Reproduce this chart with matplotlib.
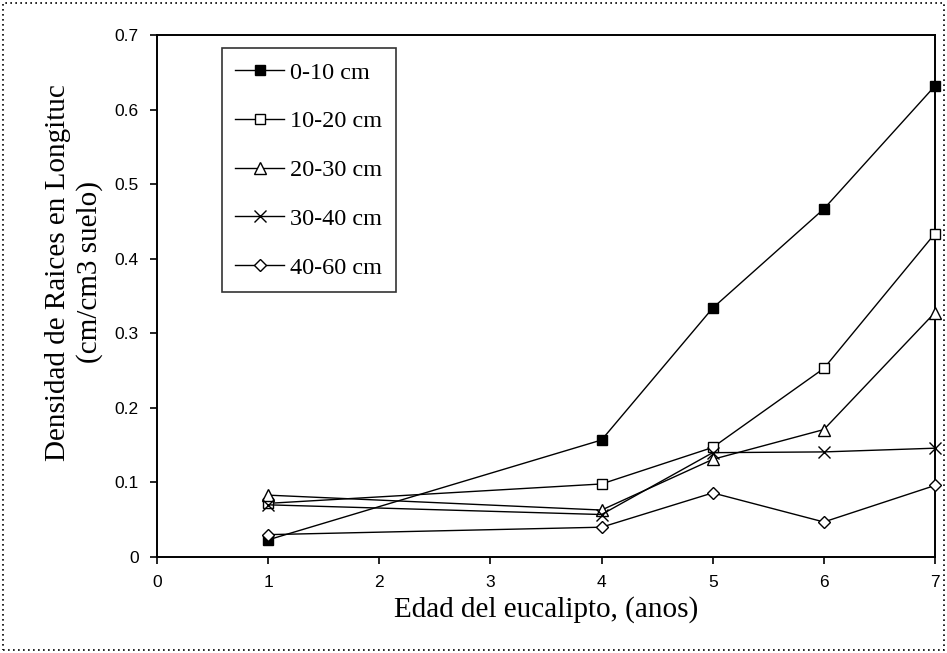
import numpy as np
import matplotlib.pyplot as plt
from matplotlib.patches import Rectangle

# DATA
edad = [1, 4, 5, 6, 7]  # anos
d_0_10 = [0.023, 0.157, 0.334, 0.467, 0.632]
d_10_20 = [0.072, 0.098, 0.147, 0.253, 0.434]
d_20_30 = [0.083, 0.063, 0.131, 0.171, 0.328]
d_30_40 = [0.070, 0.057, 0.140, 0.141, 0.146]
d_40_60 = [0.030, 0.040, 0.086, 0.047, 0.096]

labels = ["0-10 cm", "10-20 cm", "20-30 cm", "30-40 cm", "40-60 cm"]
xticks = [0, 1, 2, 3, 4, 5, 6, 7]
yticks = [0, 0.1, 0.2, 0.3, 0.4, 0.5, 0.6, 0.7]

serif = "Liberation Serif"
sans = "Liberation Sans"

fig = plt.figure(figsize=(9.47, 6.53), dpi=100)
ax = fig.add_axes([0.1658, 0.147, 0.8215, 0.799])

# series
kw = dict(lw=1, clip_on=False, zorder=3)
ax.plot(edad, d_0_10, "k-", marker="s", ms=7, mfc="black", label=labels[0], **kw)
ax.plot(edad, d_10_20, "k-", marker="s", ms=7, mfc="white", label=labels[1], **kw)
ax.plot(edad, d_20_30, "k-", marker="^", ms=8, mfc="white", label=labels[2], **kw)
ax.plot(edad, d_30_40, "k-", marker="x", ms=8, mew=1, label=labels[3], **kw)
ax.plot(edad, d_40_60, "k-", marker="D", ms=6, mfc="white", label=labels[4], **kw)

ax.set_xlim(0, 7)
ax.set_ylim(0, 0.7)
ax.set_xticks(xticks)
ax.set_yticks(yticks)
ax.set_xticklabels([str(v) for v in xticks], fontfamily=sans, fontsize=12.5)
ax.set_yticklabels(["0" if v == 0 else "%.1f" % v for v in yticks], fontfamily=sans, fontsize=12.5)
ax.tick_params(direction="out", length=5, width=1.2, pad=8)
for sp in ax.spines.values():
    sp.set_linewidth(1.4)

ax.set_xlabel("Edad del eucalipto, (anos)", fontfamily=serif, fontsize=21, labelpad=4)
ax.set_ylabel("Densidad de Raices en Longituc\n(cm/cm3 suelo)", fontfamily=serif,
              fontsize=21, linespacing=1.2)
ax.yaxis.set_label_coords(-0.07, 0.546)

leg = ax.legend(loc="upper left", bbox_to_anchor=(0.0835, 0.975), borderaxespad=0,
                prop={"family": serif, "size": 17.5}, frameon=True, fancybox=False,
                edgecolor="black", handlelength=2.0, labelspacing=1.1, borderpad=0.55,
                handletextpad=0.25)
leg.get_frame().set_linewidth(1.2)

# dotted outer border of the scanned figure
fig.patches.append(Rectangle((0.003, 0.004), 0.994, 0.992, transform=fig.transFigure,
                             fill=False, ls=(0, (1, 2)), lw=1.2, ec="black"))

fig.savefig("out.png", dpi=100)
